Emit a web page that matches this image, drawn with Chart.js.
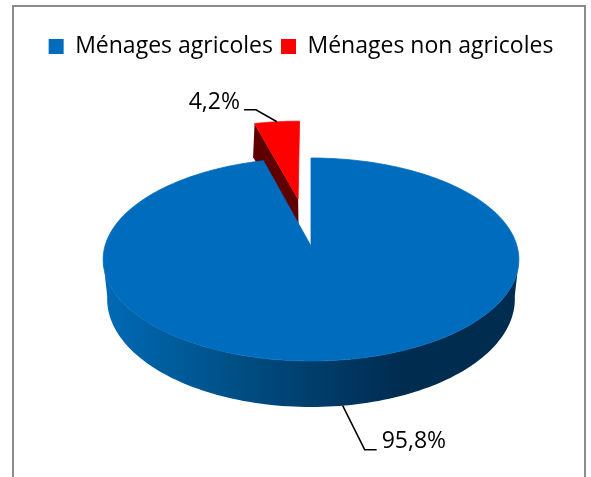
<!DOCTYPE html>
<html>
<head>
<meta charset="utf-8">
<script src="https://cdn.jsdelivr.net/npm/chart.js@4/dist/chart.umd.js"></script>
<style>
html, body { margin: 0; padding: 0; background: #fff; }
#wrap { width: 591px; height: 477px; }
</style>
</head>
<body>
<div id="wrap"><canvas id="chart" width="591" height="477"></canvas></div>
<script>
var categories = ["Ménages agricoles", "Ménages non agricoles"];
var shares = [95.8, 4.2];
var sliceColors = ["#006CBE", "#FF0000"];

var fontName = "'Open Sans'";

// The pie is tilted: unit disk to screen, with some perspective.
var topRim = { rx: 206, p: 99.7, q: -0.133, dz: 0 };
var bottomRim = { rx: 201, p: 105, q: -0.1667, dz: 35 };
var explode = [0, 0.507];
var baseRadius = 180;
var pieShiftX = 10;

function project(rim, cx, cy, scale, u, v) {
    var w = 1 + rim.q * v;
    return {
        x: cx + pieShiftX + scale * rim.rx * u / w,
        y: cy + scale * (rim.dz + rim.p * v / w)
    };
}

function percentLabel(value) {
    return value.toFixed(1).replace(".", ",") + "%";
}

var tiltedPie = {
    id: "tiltedPie",
    beforeDraw: function(chart) {
        var ctx = chart.ctx;
        ctx.save();
        ctx.fillStyle = "#fff";
        ctx.fillRect(0, 0, chart.width, chart.height);
        // frame runs off the bottom of the picture
        ctx.strokeStyle = "#8C8C8C";
        ctx.lineWidth = 2;
        ctx.beginPath();
        ctx.moveTo(13, chart.height);
        ctx.lineTo(13, 6);
        ctx.lineTo(585, 6);
        ctx.lineTo(585, chart.height);
        ctx.stroke();
        ctx.restore();
    },
    // replaces the flat arcs of the library, angles still come from its elements
    beforeDatasetDraw: function(chart) {
        var ctx = chart.ctx;
        var arcs = chart.getDatasetMeta(0).data;

        function sector(arc, i, rim) {
            var s = arc.outerRadius / baseRadius;
            var mid = (arc.startAngle + arc.endAngle) / 2;
            var ox = Math.cos(mid) * explode[i], oy = Math.sin(mid) * explode[i];
            return function(angle, r) {
                return project(rim, arc.x, arc.y, s,
                               ox + r * Math.cos(angle), oy + r * Math.sin(angle));
            };
        }

        function fillSector(arc, i, color) {
            var at = sector(arc, i, topRim);
            var p = at(0, 0);
            ctx.beginPath();
            ctx.moveTo(p.x, p.y);
            var steps = 240;
            for (var k = 0; k <= steps; ++k) {
                var a = arc.startAngle + (arc.endAngle - arc.startAngle) * k / steps;
                p = at(a, 1);
                ctx.lineTo(p.x, p.y);
            }
            ctx.closePath();
            ctx.fillStyle = color;
            ctx.fill();
            // hides the light seam against the wall
            ctx.strokeStyle = color;
            ctx.lineWidth = 0.8;
            ctx.stroke();
        }

        ctx.save();

        // red cut face, seen from the left
        var red = arcs[1];
        var redTop = sector(red, 1, topRim), redBottom = sector(red, 1, bottomRim);
        var foot = redBottom(red.startAngle, 1);
        foot.x -= 5;
        var pts = [redTop(red.startAngle, 1), redTop(0, 0), redBottom(0, 0), foot];
        ctx.beginPath();
        pts.forEach(function(p, i) { i ? ctx.lineTo(p.x, p.y) : ctx.moveTo(p.x, p.y); });
        ctx.closePath();
        ctx.fillStyle = "#5F0000";
        ctx.fill();
        fillSector(red, 1, arcs[1].options.backgroundColor);

        // blue outer wall, front half only
        var blue = arcs[0];
        var blueTop = sector(blue, 0, topRim), blueBottom = sector(blue, 0, bottomRim);
        var from = 8 * Math.PI / 180, to = 172 * Math.PI / 180, n = 120, k, p;
        ctx.beginPath();
        for (k = 0; k <= n; ++k) {
            p = blueTop(from + (to - from) * k / n, 1);
            k ? ctx.lineTo(p.x, p.y) : ctx.moveTo(p.x, p.y);
        }
        for (k = n; k >= 0; --k) {
            p = blueBottom(from + (to - from) * k / n, 1);
            ctx.lineTo(p.x, p.y);
        }
        ctx.closePath();
        var left = blueTop(to, 1).x, right = blueTop(from, 1).x;
        var grad = ctx.createLinearGradient(left, 0, right, 0);
        grad.addColorStop(0, "#006AB6");
        grad.addColorStop(0.25, "#00558F");
        grad.addColorStop(0.5, "#003E6C");
        grad.addColorStop(0.72, "#002C50");
        grad.addColorStop(1, "#002C50");
        ctx.fillStyle = grad;
        ctx.fill();
        fillSector(blue, 0, arcs[0].options.backgroundColor);

        // values with their leader lines
        var mids = [blue, red].map(function(a) { return (a.startAngle + a.endAngle) / 2; });
        var blueAnchor = blueBottom(mids[0], 1), redAnchor = redTop(mids[1], 1);
        ctx.strokeStyle = "#000";
        ctx.lineWidth = 1.5;
        ctx.beginPath();
        ctx.moveTo(blueAnchor.x, blueAnchor.y);
        ctx.lineTo(blueAnchor.x + 22, blueAnchor.y + 44);
        ctx.lineTo(blueAnchor.x + 34, blueAnchor.y + 44);
        ctx.moveTo(redAnchor.x, redAnchor.y);
        ctx.lineTo(redAnchor.x - 21, redAnchor.y - 12);
        ctx.lineTo(redAnchor.x - 33, redAnchor.y - 12);
        ctx.stroke();

        ctx.fillStyle = "#000";
        ctx.font = "23px " + fontName;
        ctx.textBaseline = "middle";
        ctx.textAlign = "left";
        ctx.fillText(percentLabel(shares[0]), blueAnchor.x + 39, blueAnchor.y + 36);
        ctx.textAlign = "right";
        ctx.fillText(percentLabel(shares[1]), redAnchor.x - 37, redAnchor.y - 19);
        ctx.restore();
        return false;
    }
};

new Chart(document.getElementById("chart"), {
    type: "pie",
    data: {
        labels: categories,
        datasets: [{
            data: shares,
            backgroundColor: sliceColors,
            borderWidth: 0
        }]
    },
    options: {
        responsive: false,
        animation: false,
        radius: baseRadius,
        layout: { padding: { top: 27, left: 25, right: 14, bottom: 53 } },
        plugins: {
            tooltip: { enabled: false },
            legend: {
                position: "top",
                labels: {
                    boxWidth: 15,
                    boxHeight: 15,
                    padding: 8,
                    color: "#000",
                    font: { family: fontName, size: 23 }
                }
            }
        }
    },
    plugins: [tiltedPie]
});
</script>
</body>
</html>
